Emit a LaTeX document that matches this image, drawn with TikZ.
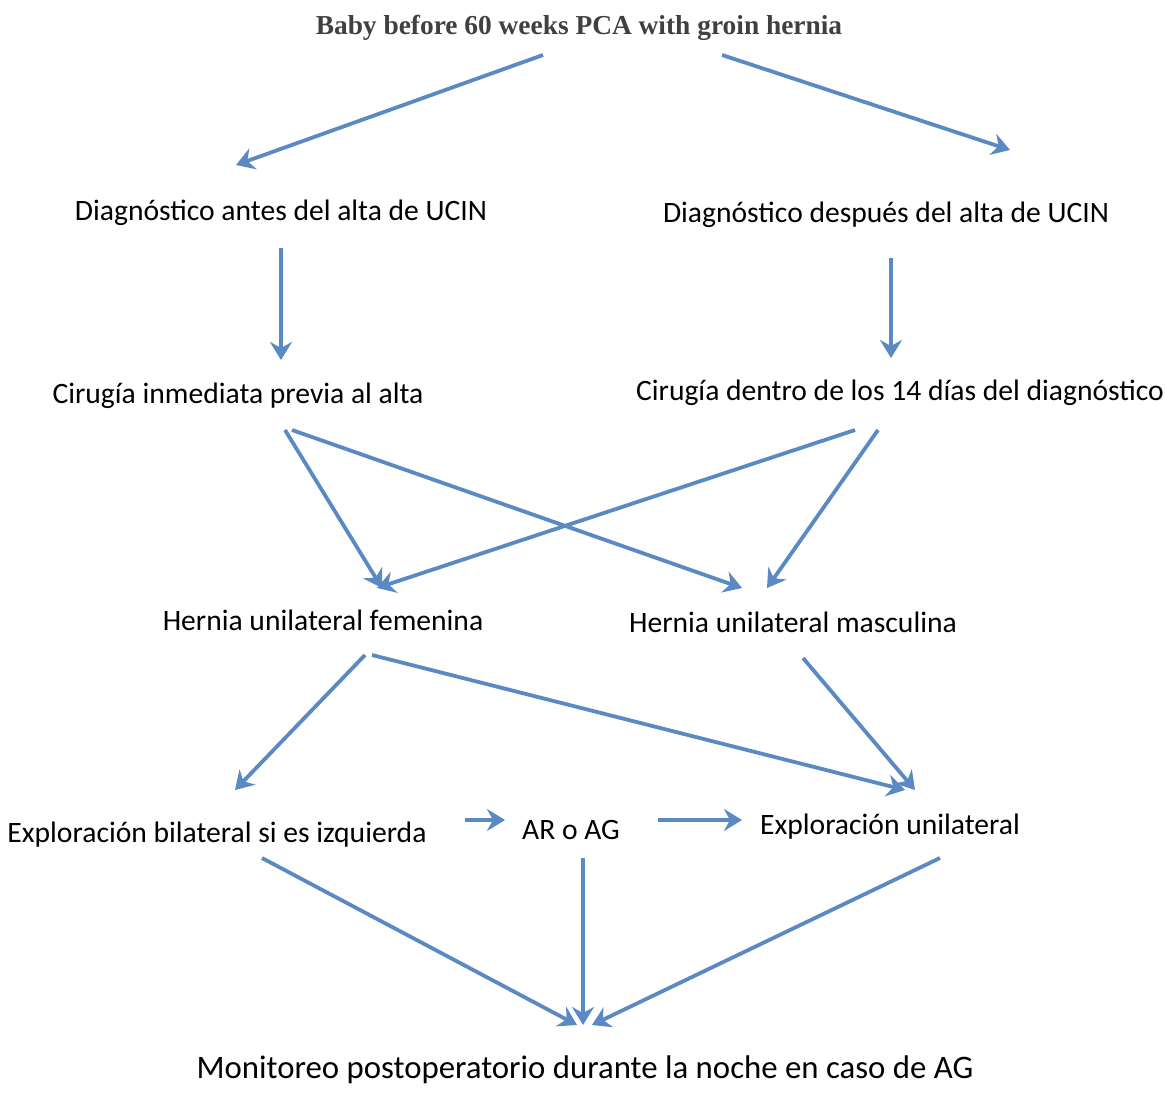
\documentclass[tikz,border=0pt]{standalone}
\usepackage{fontspec}
\setmainfont{Carlito}
\newfontfamily\titlefont{Liberation Serif}
\usetikzlibrary{arrows.meta}
\definecolor{arrowblue}{HTML}{5A89C3}
\definecolor{titlegray}{HTML}{404040}
\tikzset{
  lbl/.style={inner sep=0pt, font=\fontsize{29.6}{34}\selectfont, text=black},
  biglbl/.style={inner sep=0pt, font=\fontsize{32.8}{38}\selectfont, text=black},
  ttl/.style={inner sep=0pt, font=\titlefont\bfseries\fontsize{27.4}{32}\selectfont, text=titlegray},
  conn/.style={draw=arrowblue, line width=3.8pt, -{Stealth[length=18pt,width=22pt,inset=6pt]}}
}
\begin{document}
\begin{tikzpicture}[x=1pt,y=-1pt]
\useasboundingbox (0,0) rectangle (1166,1099);
\node[ttl] (T) at (579,28) {Baby before 60 weeks PCA with groin hernia};
\node[lbl] (DA) at (281,213) {Diagnóstico antes del alta de UCIN};
\node[lbl] (DD) at (886,215) {Diagnóstico después del alta de UCIN};
\node[lbl] (CI) at (238,396) {Cirugía inmediata previa al alta};
\node[lbl] (CD) at (900,393) {Cirugía dentro de los 14 días del diagnóstico};
\node[lbl] (HF) at (323,620) {Hernia unilateral femenina};
\node[lbl] (HM) at (793,622) {Hernia unilateral masculina};
\node[lbl] (EB) at (217,835) {Exploración bilateral si es izquierda};
\node[lbl] (AR) at (571,830) {AR o AG};
\node[lbl] (EU) at (890,827) {Exploración unilateral};
\node[biglbl] (MO) at (585,1070) {Monitoreo postoperatorio durante la noche en caso de AG};

\draw[conn] ([shift={(-36,27)}]T.center) -- ([shift={(-45,-48)}]DA.center);
\draw[conn] ([shift={(143,27)}]T.center) -- ([shift={(124,-65)}]DD.center);
\draw[conn] ([shift={(0,35)}]DA.center) -- ([shift={(43,-36)}]CI.center);
\draw[conn] ([shift={(5,43)}]DD.center) -- ([shift={(-9,-35)}]CD.center);
\draw[conn] ([shift={(47,34)}]CI.center) -- ([shift={(59,-32)}]HF.center);
\draw[conn] ([shift={(54,34)}]CI.center) -- ([shift={(-51,-34)}]HM.center);
\draw[conn] ([shift={(-45,37)}]CD.center) -- ([shift={(54,-32)}]HF.center);
\draw[conn] ([shift={(-22,37)}]CD.center) -- ([shift={(-26,-34)}]HM.center);
\draw[conn] ([shift={(42,35)}]HF.center) -- ([shift={(18,-45)}]EB.center);
\draw[conn] ([shift={(49,35)}]HF.center) -- ([shift={(15,-37)}]EU.center);
\draw[conn] ([shift={(10,36)}]HM.center) -- ([shift={(25,-37)}]EU.center);
\draw[conn] ([shift={(248,-15)}]EB.center) -- ([shift={(-66,-10)}]AR.center);
\draw[conn] ([shift={(87,-10)}]AR.center) -- ([shift={(-148,-7)}]EU.center);
\draw[conn] ([shift={(45,23)}]EB.center) -- ([shift={(-8,-45)}]MO.center);
\draw[conn] ([shift={(12,28)}]AR.center) -- ([shift={(-2,-45)}]MO.center);
\draw[conn] ([shift={(50,31)}]EU.center) -- ([shift={(7,-45)}]MO.center);
\end{tikzpicture}
\end{document}
